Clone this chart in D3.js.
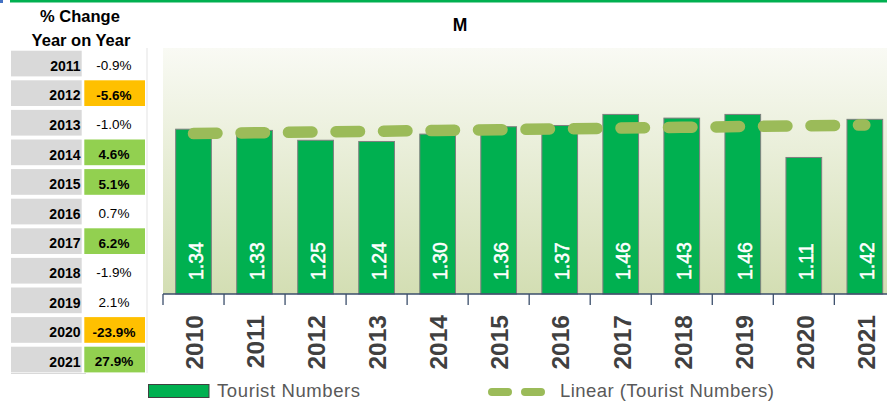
<!DOCTYPE html>
<html><head><meta charset="utf-8">
<script src="https://cdn.jsdelivr.net/npm/d3@7"></script>
<style>
html,body{margin:0;padding:0;background:#fff;overflow:hidden}
svg{display:block;font-family:"Liberation Sans",Arial,sans-serif}
</style></head>
<body>
<svg id="c" width="887" height="401"></svg>
<script>
// ---- data ----
const years = ["2010","2011","2012","2013","2014","2015","2016","2017","2018","2019","2020","2021"];
const touristNumbers = [1.34,1.33,1.25,1.24,1.30,1.36,1.37,1.46,1.43,1.46,1.11,1.42];
const changeYears = ["2011","2012","2013","2014","2015","2016","2017","2018","2019","2020","2021"];
const changePct = [-0.9,-5.6,-1.0,4.6,5.1,0.7,6.2,-1.9,2.1,-23.9,27.9];
const title = "M";
const tableTitle = ["% Change","Year on Year"];
const legendLabels = ["Tourist Numbers","Linear (Tourist Numbers)"];

const svg = d3.select("#c");
const W = 887, H = 401;
const plot = {left:163, top:48, right:163+12*61.03, bottom:294};

// top decorations
svg.append("rect").attr("x",10).attr("y",0).attr("width",W-10).attr("height",2.5).attr("fill","#00B050");
svg.append("rect").attr("x",0).attr("y",0).attr("width",3).attr("height",3).attr("fill","#4472C4");

// gradient background
const defs = svg.append("defs");
const grad = defs.append("linearGradient").attr("id","bg").attr("x1",0).attr("y1",0).attr("x2",0).attr("y2",1);
grad.append("stop").attr("offset","0%").attr("stop-color","#F9FAF4");
grad.append("stop").attr("offset","100%").attr("stop-color","#D3DEB3");
svg.append("rect").attr("x",plot.left).attr("y",plot.top)
  .attr("width",plot.right-plot.left).attr("height",plot.bottom-plot.top).attr("fill","url(#bg)");

// scales
const x = d3.scaleBand().domain(years).range([plot.left, plot.right]).paddingInner(0.415).paddingOuter(0.2075);
const y = d3.scaleLinear().domain([0,2]).range([plot.bottom, plot.top]);

// title
svg.append("text").attr("x",460).attr("y",31).attr("text-anchor","middle")
  .attr("font-size",17.5).attr("font-weight","bold").attr("fill","#000").text(title);

// bars
svg.selectAll("rect.bar").data(touristNumbers).join("rect").attr("class","bar")
  .attr("x",(d,i)=>x(years[i])).attr("y",d=>y(d))
  .attr("width",x.bandwidth()).attr("height",d=>y(0)-y(d))
  .attr("fill","#00B050").attr("stroke","#7F7F7F").attr("stroke-width",1);

// value labels
svg.selectAll("text.val").data(touristNumbers).join("text").attr("class","val")
  .attr("transform",(d,i)=>`translate(${x(years[i])+x.bandwidth()/2+9.5},280) rotate(-90)`)
  .attr("font-size",19.5).attr("fill","#fff").attr("stroke","#fff").attr("stroke-width",0.5)
  .attr("text-anchor","start")
  .text(d=>d.toFixed(2));

// trend line (least squares)
const mx = d3.mean(touristNumbers,(d,i)=>i), my = d3.mean(touristNumbers);
const slope = d3.sum(touristNumbers,(d,i)=>(i-mx)*(d-my)) / d3.sum(touristNumbers,(d,i)=>(i-mx)*(i-mx));
const icpt = my - slope*mx;
const trend = years.map((yr,i)=>[x(yr)+x.bandwidth()/2, y(icpt+slope*i)]);
svg.append("path").attr("d",d3.line()(trend)).attr("fill","none")
  .attr("stroke","#9BBB59").attr("stroke-width",11.5).attr("stroke-linecap","round")
  .attr("stroke-dasharray","23.5 24");

// axis
const axisG = svg.append("g");
axisG.append("line").attr("x1",plot.left).attr("x2",plot.right).attr("y1",plot.bottom).attr("y2",plot.bottom)
  .attr("stroke","#3B4E6B").attr("stroke-width",1.3);
const tickXs = years.map(yr=>x(yr)-x.step()*x.paddingOuter()).concat([plot.right]);
axisG.selectAll("line.tk").data(tickXs).join("line").attr("class","tk")
  .attr("x1",d=>d).attr("x2",d=>d).attr("y1",plot.bottom).attr("y2",plot.bottom+11)
  .attr("stroke","#3B4E6B").attr("stroke-width",1.3);
axisG.selectAll("text.yr").data(years).join("text").attr("class","yr")
  .attr("transform",d=>`translate(${x(d)+x.bandwidth()/2+9.8},315) rotate(-90)`)
  .attr("text-anchor","end").attr("font-size",24.5).attr("font-weight","bold").attr("fill","#404040")
  .text(d=>d);

// legend
svg.append("rect").attr("x",148.5).attr("y",384.5).attr("width",60.5).attr("height",13)
  .attr("fill","#00B050").attr("stroke","#404040").attr("stroke-width",1);
svg.append("text").attr("x",217).attr("y",397).attr("font-size",18.5).attr("letter-spacing",0.6)
  .attr("fill","#595959").text(legendLabels[0]);
svg.append("line").attr("x1",492).attr("x2",541).attr("y1",392).attr("y2",392)
  .attr("stroke","#9BBB59").attr("stroke-width",8).attr("stroke-linecap","round").attr("stroke-dasharray","16 17");
svg.append("text").attr("x",560).attr("y",397).attr("font-size",18.5).attr("letter-spacing",0.45)
  .attr("fill","#595959").text(legendLabels[1]);

// table
const tg = svg.append("g");
tg.append("text").attr("x",80).attr("y",22).attr("text-anchor","middle").attr("font-size",16.5)
  .attr("font-weight","bold").attr("fill","#000").text(tableTitle[0]);
tg.append("text").attr("x",81).attr("y",45.5).attr("text-anchor","middle").attr("font-size",16.5)
  .attr("font-weight","bold").attr("fill","#000").text(tableTitle[1]);
const rowY = d3.scaleLinear().domain([0,changeYears.length]).range([50.7, 50.7+29.6*changeYears.length]);
tg.append("line").attr("x1",147).attr("x2",147).attr("y1",48).attr("y2",373).attr("stroke","#E3E3E3").attr("stroke-width",1);
tg.append("line").attr("x1",11).attr("x2",86).attr("y1",373.5).attr("y2",373.5).attr("stroke","#D9D9D9").attr("stroke-width",1);
changeYears.forEach((yr,i)=>{
  const top = rowY(i);
  const v = changePct[i];
  tg.append("rect").attr("x",11).attr("y",top).attr("width",70.7).attr("height",25.7).attr("fill","#D9D9D9");
  tg.append("text").attr("x",80.5).attr("y",top+20).attr("text-anchor","end").attr("font-size",14)
    .attr("font-weight","bold").attr("fill","#000").text(yr);
  const hl = Math.abs(v) > 3;
  if (hl) tg.append("rect").attr("x",84.3).attr("y",top).attr("width",60.7).attr("height",25.7)
    .attr("fill", v < 0 ? "#FFC000" : "#92D050");
  tg.append("text").attr("x",114).attr("y",top+19.5).attr("text-anchor","middle").attr("font-size",13.5)
    .attr("font-weight", hl ? "bold" : "normal").attr("fill","#000").text(v.toFixed(1)+"%");
});
</script>
</body></html>
